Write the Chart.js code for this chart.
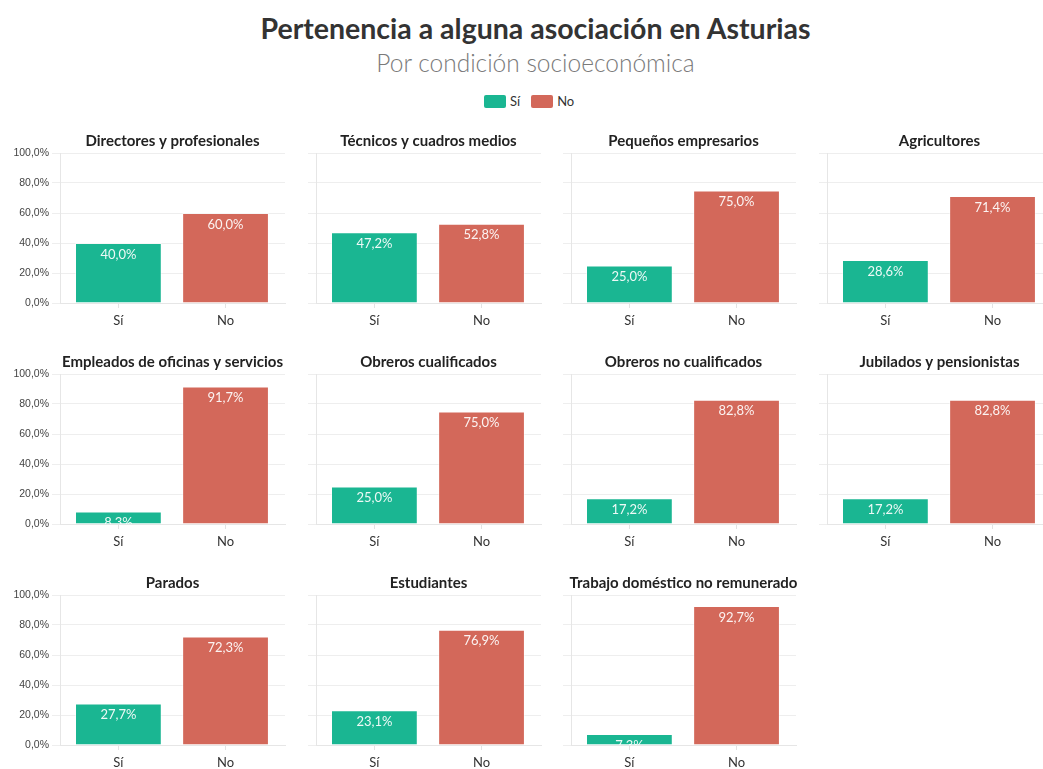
<!DOCTYPE html>
<html>
<head>
<meta charset="utf-8">
<script src="https://cdn.jsdelivr.net/npm/chart.js@4.4.1/dist/chart.umd.min.js"></script>
<style>
  html,body{margin:0;padding:0;background:#fff;}
  body{width:1043px;height:769px;position:relative;overflow:hidden;font-family:Lato, sans-serif;}
  #title{position:absolute;left:0;width:1071px;top:11px;text-align:center;font-size:28.5px;font-weight:bold;color:#333;}
  #subtitle{position:absolute;left:0;width:1071px;top:48px;text-align:center;font-size:24.5px;font-weight:300;color:#7a7a7a;}
  #legend{position:absolute;top:93px;left:484px;font-size:13px;color:#333;display:flex;align-items:center;}
  #legend span.box{display:inline-block;width:22px;height:13px;border-radius:2px;margin-right:4px;}
  #legend span.lab{margin-right:11px;}
  canvas{position:absolute;}
</style>
</head>
<body>
<div id="title">Pertenencia a alguna asociación en Asturias</div>
<div id="subtitle">Por condición socioeconómica</div>
<div id="legend"><span class="box" style="background:#1ab692"></span><span class="lab">Sí</span><span class="box" style="background:#d3685a"></span><span class="lab">No</span></div>
<div id="wrap"></div>
<script>
const FONT = 'Lato, sans-serif';
const GREEN = '#1ab692';
const RED = '#d3685a';

const categories = [
  'Directores y profesionales',
  'Técnicos y cuadros medios',
  'Pequeños empresarios',
  'Agricultores',
  'Empleados de oficinas y servicios',
  'Obreros cualificados',
  'Obreros no cualificados',
  'Jubilados y pensionistas',
  'Parados',
  'Estudiantes',
  'Trabajo doméstico no remunerado'
];
const xLabels = ['Sí', 'No'];
const siValues = [40.0, 47.2, 25.0, 28.6, 8.3, 25.0, 17.2, 17.2, 27.7, 23.1, 7.3];
const noValues = [60.0, 52.8, 75.0, 71.4, 91.7, 75.0, 82.8, 82.8, 72.3, 76.9, 92.7];
const yTicks = [0, 20, 40, 60, 80, 100];

const fmt = v => v.toFixed(1).replace('.', ',') + '%';

const panelPlugin = {
  id: 'panelDecor',
  afterDatasetsDraw(chart) {
    const ctx = chart.ctx;
    const area = chart.chartArea;
    const meta = chart.getDatasetMeta(0);
    const data = chart.data.datasets[0].data;
    ctx.save();
    ctx.beginPath();
    ctx.rect(area.left, area.top, area.right - area.left, area.bottom - area.top);
    ctx.clip();
    ctx.font = '13px ' + FONT;
    ctx.fillStyle = 'rgba(255,255,255,0.92)';
    ctx.textAlign = 'center';
    ctx.textBaseline = 'middle';
    meta.data.forEach((bar, j) => {
      ctx.fillText(fmt(data[j].y), bar.x, bar.y + 11.5);
    });
    ctx.restore();
  },
  afterDraw(chart) {
    const ctx = chart.ctx;
    const area = chart.chartArea;
    ctx.save();
    ctx.font = 'bold 15px ' + FONT;
    ctx.fillStyle = '#222';
    ctx.textAlign = 'center';
    ctx.textBaseline = 'middle';
    ctx.fillText(chart.options.plugins.panelDecor.title, (area.left + area.right) / 2, 21);
    ctx.restore();
  }
};

const wrap = document.getElementById('wrap');
categories.forEach((cat, i) => {
  const col = i % 4, row = Math.floor(i / 4);
  const c = document.createElement('canvas');
  c.width = 290; c.height = 221;
  c.style.width = '290px'; c.style.height = '221px';
  c.style.left = Math.round(col * 255.7) + 'px';
  c.style.top = (120 + row * 221) + 'px';
  wrap.appendChild(c);
  new Chart(c, {
    type: 'bar',
    data: {
      datasets: [{
        data: [{ x: 0, y: siValues[i] }, { x: 1, y: noValues[i] }],
        backgroundColor: [GREEN, RED],
        borderColor: ['rgba(255,255,255,0.5)', 'rgba(255,255,255,0.5)'],
        borderWidth: 1,
        barPercentage: 0.81,
        categoryPercentage: 1
      }]
    },
    options: {
      responsive: false,
      animation: false,
      devicePixelRatio: 1,
      layout: { padding: { top: 33, right: 5, left: 0, bottom: 0 } },
      plugins: {
        legend: { display: false },
        tooltip: { enabled: false },
        panelDecor: { title: cat }
      },
      scales: {
        x: {
          type: 'linear',
          min: -0.545, max: 1.555,
          offset: false,
          grid: { drawOnChartArea: false, offset: false, color: '#e3e3e3', tickLength: 5 },
          border: { color: '#e6e6e6' },
          ticks: {
            stepSize: 1, includeBounds: false, autoSkip: false,
            color: '#333', font: { size: 13, family: FONT }, padding: 5,
            callback: v => xLabels[v]
          },
          afterFit(s) { s.height = 38; }
        },
        y: {
          min: 0, max: 100,
          ticks: {
            stepSize: yTicks[1] - yTicks[0],
            display: col === 0, callback: v => fmt(v), color: '#444',
            font: { size: 10.5, family: '"Liberation Sans", Arial, sans-serif' }, padding: 3
          },
          grid: { color: '#eeeeee', tickLength: 8 },
          border: { color: '#e6e6e6' },
          afterFit(s) { s.width = 60; }
        }
      }
    },
    plugins: [panelPlugin]
  });
});
</script>
</body>
</html>
